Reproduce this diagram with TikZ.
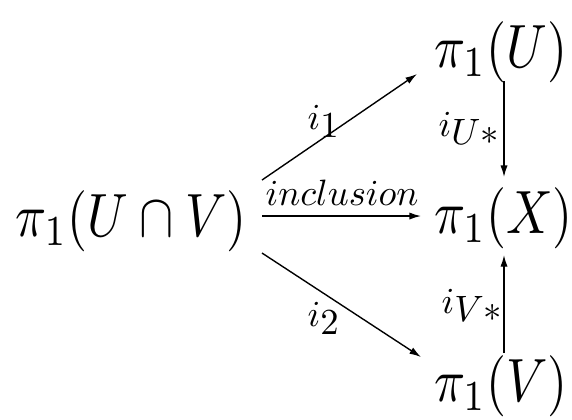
\documentclass[tikz,border=0pt]{standalone}
\usetikzlibrary{arrows.meta,calc}
\newcommand{\lsub}[2]{$#1$\raisebox{-2.3pt}{$#2$}}
\begin{document}
\begin{tikzpicture}[x=0.18pt,y=-0.18pt,
  obj/.style={inner sep=0pt,font=\fontsize{10}{12}\selectfont,xscale=0.925,yscale=1.1,transform shape},
  lab/.style={inner sep=0pt,font=\fontsize{10}{12}\selectfont,scale=0.66,transform shape,anchor=base west},
  arr/.style={-{Latex[length=2.1pt,width=1.3pt]},line width=0.25pt}]
\useasboundingbox (0,0) rectangle (572,419);
\node[obj] (uv) at (131,221) {$\pi_1(U\cap V)$};
\node[obj,anchor=west] (U) at (433,52) {$\pi_1(U)$};
\node[obj,anchor=west] (X) at (433,218) {$\pi_1(X)$};
\node[obj,anchor=west] (V) at (433,386) {$\pi_1(V)$};
\draw[arr] ($(uv)+(131,-41)$) -- ($(U.west)+(-16,22)$);
\draw[arr] ($(uv)+(131,-5)$) -- ($(X.west)+(-12,-2)$);
\draw[arr] ($(uv)+(131,32)$) -- ($(V.west)+(-12,-29)$);
\draw[arr] ($(U.west)+(71,29)$) -- ($(X.west)+(71,-41)$);
\draw[arr] ($(V.west)+(71,-33)$) -- ($(X.west)+(71,37)$);
\node[lab] (l1) at (307,129) {\lsub{i}{1}};
\node[lab] (lin) at (265,205) {$inclusion$};
\node[lab] (l2) at (307,326) {\lsub{i}{2}};
\node[lab] (lu) at (438,136) {\lsub{i}{U*}};
\node[lab] (lv) at (441,313) {\lsub{i}{V*}};
\end{tikzpicture}
\end{document}
